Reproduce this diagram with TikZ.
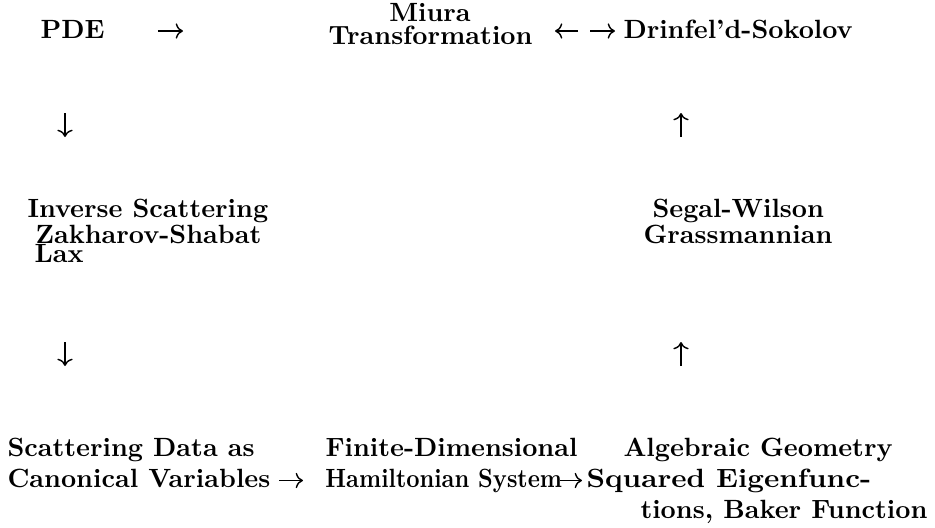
\documentclass[tikz,border=0pt]{standalone}
\usetikzlibrary{arrows.meta}
\begin{document}
\begin{tikzpicture}[x=0.3846pt, y=-0.3846pt,
  lbl/.style={anchor=base west, inner sep=0pt, font=\fontsize{10.15}{12}\selectfont\bfseries},
  arr/.style={line width=0.55pt, -{Computer Modern Rightarrow[]}}]
\useasboundingbox (0,0) rectangle (935,528);

% top row
\node[lbl] (pde) at (40,38) {PDE};
\node[lbl, anchor=base] (miura) at (430,21) {Miura};
\node[lbl] (transf) at (328,44) {Transformation};
\node[lbl] (ds) at (623,38) {Drinfel'd-Sokolov};

% middle blocks
\node[lbl] (is1) at (27,217) {Inverse Scattering};
\node[lbl] (is2) at (35,243) {Zakharov-Shabat};
\node[lbl] (is3) at (34,262) {Lax};
\node[lbl] (sw1) at (652,217) {Segal-Wilson};
\node[lbl] (sw2) at (643,243) {Grassmannian};

% bottom row
\node[lbl] (sd1) at (7,456) {Scattering Data as};
\node[lbl] (sd2) at (7,487) {Canonical Variables};
\node[lbl] (fd1) at (325,456) {Finite-Dimensional};
\node[lbl, xscale=0.875, transform shape] (fd2) at (325,487) {Hamiltonian System};
\node[lbl] (ag1) at (623,456) {Algebraic Geometry};
\node[lbl, xscale=1.1, transform shape] (ag2) at (586,487) {Squared Eigenfunc-};
\node[lbl] (ag3) at (640,518) {tions, Baker Function};

% arrow end points
\coordinate (r1a) at (158,31); \coordinate (r1b) at (183,31);
\coordinate (l1a) at (578,31); \coordinate (l1b) at (555,31);
\coordinate (r2a) at (590,31); \coordinate (r2b) at (615,31);
\coordinate (d1a) at (65,113);   \coordinate (d1b) at (65,137);
\coordinate (u1a) at (681,137);  \coordinate (u1b) at (681,113);
\coordinate (d2a) at (65,342);   \coordinate (d2b) at (65,366);
\coordinate (u2a) at (681,366);  \coordinate (u2b) at (681,342);
\coordinate (r3a) at (279,480.5); \coordinate (r3b) at (303,480.5);
\coordinate (r4a) at (560,480.5); \coordinate (r4b) at (582,480.5);

\foreach \a/\b in {r1a/r1b, l1a/l1b, r2a/r2b, d1a/d1b, u1a/u1b,
                   d2a/d2b, u2a/u2b, r3a/r3b, r4a/r4b}
  \draw[arr] (\a) -- (\b);
\end{tikzpicture}
\end{document}
